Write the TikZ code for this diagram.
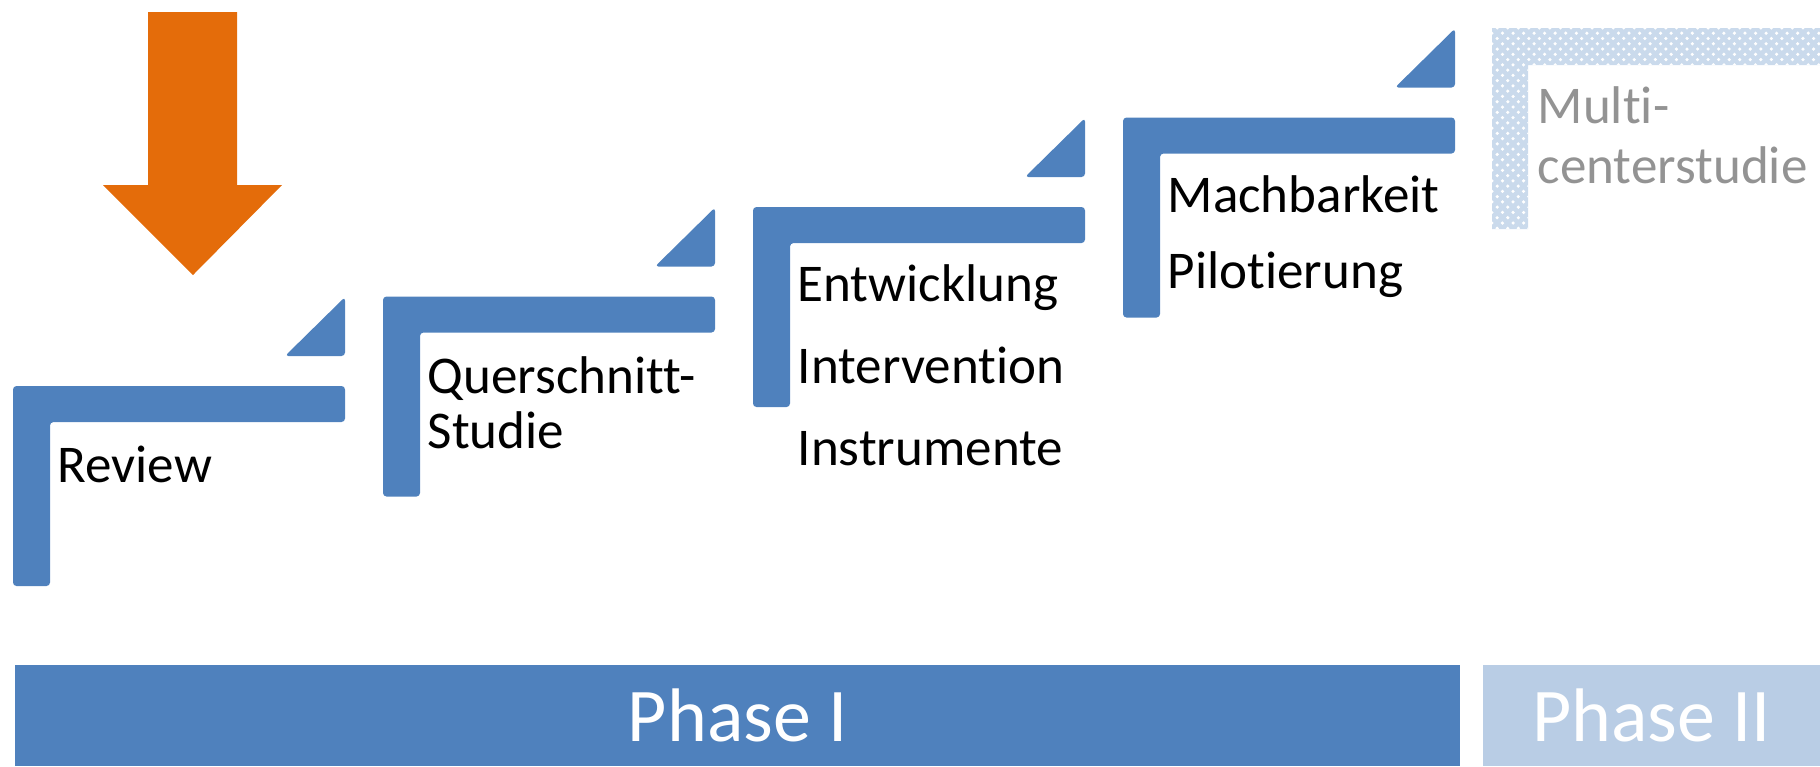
\documentclass[tikz,border=0pt]{standalone}
\usepackage{fontspec}
\setmainfont[Ligatures=NoCommon]{Carlito}
\definecolor{stepblue}{RGB}{79, 129, 189}
\definecolor{phasetwo}{RGB}{185, 205, 229}
\definecolor{arroworange}{RGB}{228, 108, 10}
\usetikzlibrary{patterns}

\begin{document}
\begin{tikzpicture}[x=0.1mm, y=-0.1mm,
  steptext/.style={anchor=base west, inner sep=0pt, font=\fontsize{15.1}{18}\selectfont},
  phasebar/.style={minimum height=1.01cm, inner sep=0pt, text=white, font=\fontsize{21.6}{26}\selectfont}
]
  \useasboundingbox (0,0) rectangle (1820,766);

  % stairs of phase I
  \foreach \i in {0,...,3} {
    \pgfmathsetmacro{\sx}{13+370*\i}
    \pgfmathsetmacro{\sy}{386-89.5*\i}
    \fill[stepblue, rounded corners=1pt] (\sx,\sy+200) -- (\sx,\sy) -- (\sx+332,\sy) -- (\sx+332,\sy+36)
      -- (\sx+37,\sy+36) -- (\sx+37,\sy+200) -- cycle;
    \fill[stepblue, rounded corners=1pt] (\sx+272,\sy-30) -- (\sx+332,\sy-89) -- (\sx+332,\sy-30) -- cycle;
  }

  % last step, still to come
  \fill[phasetwo!75] (1492,229) -- (1492,28) -- (1820,28) -- (1820,65) -- (1528,65) -- (1528,229) -- cycle;
  \fill[pattern=crosshatch dots, pattern color=white] (1492,229) -- (1492,28) -- (1820,28) -- (1820,65) -- (1528,65) -- (1528,229) -- cycle;

  % where we are
  \fill[arroworange] (148,12) -- (237,12) -- (237,185) -- (282,185) -- (193,275) -- (103,185) -- (148,185) -- cycle;

  \node (review) [steptext] at (57,482) {Review};
  \node (quer1) [steptext] at (427,393) {Querschnitt-};
  \node (quer2) [steptext] at (427,448) {Studie};
  \node (entw) [steptext] at (797,301) {Entwicklung};
  \node (interv) [steptext] at (797,383) {Intervention};
  \node (instr) [steptext] at (797,465) {Instrumente};
  \node (mach) [steptext] at (1167,212) {Machbarkeit};
  \node (pilot) [steptext] at (1167,288) {Pilotierung};
  \node (multi1) [steptext, text=gray!85] at (1537,123) {Multi-};
  \node (multi2) [steptext, text=gray!85] at (1537,183) {centerstudie};

  \node (phase1) [phasebar, fill=stepblue, minimum width=14.45cm] at (737.5,715.5) {Phase I};
  \node (phase2) [phasebar, fill=phasetwo, minimum width=3.37cm] at (1651.5,715.5) {Phase II};
\end{tikzpicture}
\end{document}
